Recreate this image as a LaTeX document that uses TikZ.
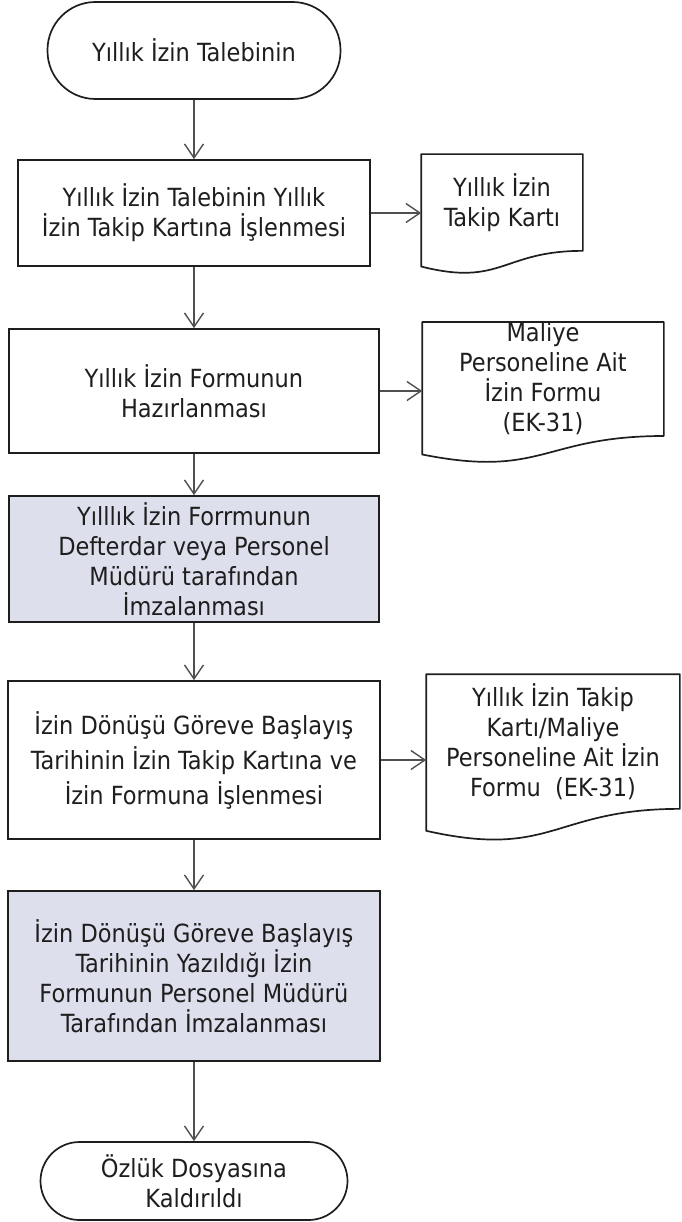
\documentclass[tikz,border=0pt]{standalone}
\usepackage{fontspec}
\setmainfont{DejaVu Sans Condensed}
\usetikzlibrary{arrows.meta,calc}

\definecolor{boxline}{RGB}{30,30,30}
\definecolor{arrowgray}{RGB}{80,80,80}
\definecolor{shade}{RGB}{221,224,236}

% document outline round a node (#1) of height #2
\newcommand{\docframe}[2]{%
  \draw[docline] (#1.north west) -- (#1.north east) -- (#1.south east)
    .. controls (#1.south) and ($(#1.south)+(0,0.38*#2)$) .. ($(#1.south west)+(0,0.165*#2)$) -- cycle;}

\begin{document}
\begin{tikzpicture}[x=1pt,y=-1pt]
		\tikzset{proc/.style = {shape=rectangle,draw=boxline,line width=1.7pt,align=center,inner sep=0pt,
			text=boxline,font=\fontsize{25}{30}\selectfont}}
		\tikzset{term/.style = {proc,rounded corners=#1}}
		\tikzset{docnode/.style = {proc,draw=none}}
		\tikzset{docline/.style = {draw=boxline,line width=1.7pt,line join=round}}
		\tikzset{arrow/.style = {draw=arrowgray,line width=1.4pt,-{Straight Barb[length=14pt,width=19pt]}}}

		\useasboundingbox (0,0) rectangle (681,1222);

		\node[term=48pt,minimum width=293pt,minimum height=97pt] (start) at (194,50.5) {Yıllık İzin Talebinin};
		\node[proc,minimum width=352pt,minimum height=106pt] (box1) at (194,213) {Yıllık İzin Talebinin Yıllık\\İzin Takip Kartına İşlenmesi};
		\node[proc,minimum width=370pt,minimum height=124pt] (box2) at (194,391) {Yıllık İzin Formunun\\Hazırlanması};
		\node[proc,fill=shade,minimum width=370pt,minimum height=126pt] (box3) at (194,559) {Yılllık İzin Forrmunun\\Defterdar veya Personel\\Müdürü tarafından\\İmzalanması};
		\node[proc,minimum width=372pt,minimum height=158pt,font=\fontsize{25}{35}\selectfont] (box4) at (194,760) {İzin Dönüşü Göreve Başlayış\\Tarihinin İzin Takip Kartına ve\\İzin Formuna İşlenmesi};
		\node[proc,fill=shade,minimum width=372pt,minimum height=170pt] (box5) at (194,976) {İzin Dönüşü Göreve Başlayış\\Tarihinin Yazıldığı İzin\\Formunun Personel Müdürü\\Tarafından İmzalanması};
		\node[term=39pt,minimum width=307pt,minimum height=78pt] (end) at (194,1181) {Özlük Dosyasına\\Kaldırıldı};

		\node[docnode,minimum width=160pt,minimum height=95pt] (doc1) at (502,202.5) {Yıllık İzin\\Takip Kartı};
		\node[docnode,minimum width=240pt,minimum height=112pt] (doc2) at (543,379) {Maliye\\Personeline Ait\\İzin Formu\\(EK-31)};
		\node[docnode,minimum width=252pt,minimum height=133pt] (doc3) at (553,741.5) {Yıllık İzin Takip\\Kartı/Maliye\\Personeline Ait İzin\\Formu~ (EK-31)};
		\docframe{doc1}{95}
		\docframe{doc2}{112}
		\docframe{doc3}{133}

		\draw[arrow] (start) -- (box1);
		\draw[arrow] (box1) -- (box2);
		\draw[arrow] (box2) -- (box3);
		\draw[arrow] (box3) -- (box4);
		\draw[arrow] (box4) -- (box5);
		\draw[arrow] (box5) -- (end);
		\draw[arrow] (box1) -- (box1 -| doc1.west);
		\draw[arrow] (box2) -- (box2 -| doc2.west);
		\draw[arrow] (box4) -- (box4 -| doc3.west);
\end{tikzpicture}
\end{document}
